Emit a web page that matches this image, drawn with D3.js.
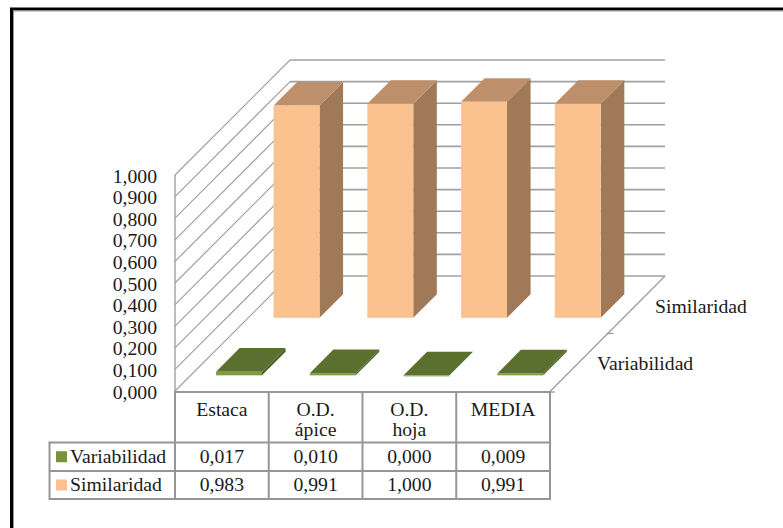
<!DOCTYPE html>
<html>
<head>
<meta charset="utf-8">
<script src="https://cdn.jsdelivr.net/npm/d3@7"></script>
<style>
html, body { margin: 0; padding: 0; background: #fff; }
svg { display: block; }
text { font-family: "Liberation Serif", serif; font-size: 19.7px; fill: #1a1a1a; }
</style>
</head>
<body>
<div id="chart"></div>
<script>
var categories = ["Estaca", "O.D. ápice", "O.D. hoja", "MEDIA"];
var seriesNames = ["Variabilidad", "Similaridad"];
var variabilidad = [0.017, 0.010, 0.000, 0.009];
var similaridad = [0.983, 0.991, 1.000, 0.991];
var yTicks = [0, 0.1, 0.2, 0.3, 0.4, 0.5, 0.6, 0.7, 0.8, 0.9, 1];

var W = 783, H = 528;
var svg = d3.select("#chart").append("svg").attr("width", W).attr("height", H);

// front edge of the floor, and how far the box recedes up and to the right
var x0 = 175, x1 = 550, yFloor = 391, yTop = 175, boxDepth = 115;

var xBand = d3.scaleBand().domain(categories).range([x0, x1]);
var xBar = d3.scaleBand().domain(categories).range([x0 + 1.5, x1 + 1.5]).paddingInner(0.51).paddingOuter(0.255);
var y = d3.scaleLinear().domain([0, 1]).range([yFloor, yTop]);
var depth = d3.scaleBand().domain(seriesNames).range([-1.3, boxDepth - 1.3]).paddingInner(0.59).paddingOuter(0.295);

var colors = {
    "Variabilidad": {front: "#7f9c42", top: "#5b6f2f", side: "#4f6128", key: "#77933c"},
    "Similaridad": {front: "#fbc18e", top: "#bd8f6b", side: "#a07a58", key: "#fac090"}
};
var gridColor = "#a0a0a0", tableColor = "#969696";

function pts(list) {
    return list.map(function(p) { return p[0] + "," + p[1]; }).join(" ");
}

function line(x1, y1, x2, y2, color, w) {
    svg.append("line")
        .attr("x1", x1).attr("y1", y1).attr("x2", x2).attr("y2", y2)
        .attr("stroke", color).attr("stroke-width", w);
}

function draw_frame() {
    line(10, 9, W, 9, "#000", 3);
    line(11.5, 8, 11.5, H, "#000", 3);
    line(13, 11, W, 11, "#999", 1);
    line(13.5, 11, 13.5, H, "#999", 1);
}

function draw_walls() {
    yTicks.forEach(function(t) {
        var yy = y(t);
        line(x0, yy, x0 + boxDepth, yy - boxDepth, gridColor, 1.2);
        line(x0 + boxDepth, yy - boxDepth, x1 + boxDepth, yy - boxDepth, gridColor, 1.6);
    });
    line(x0, y(0), x0, y(1), gridColor, 1.4);
    line(x1, yFloor + 0.5, x1 + boxDepth, yFloor - boxDepth, gridColor, 1.4);
    // depth tick between the two series, and the one at the front corner
    line(x1 + boxDepth / 2 - 1, yFloor - boxDepth / 2, x1 + boxDepth / 2 + 6, yFloor - boxDepth / 2, gridColor, 1.4);
    line(x1, yFloor + 1, x1 + 5, yFloor + 1, gridColor, 1.4);
}

function draw_series(name, values) {
    var d = depth(name), dw = depth.bandwidth(), w = xBar.bandwidth();
    var c = colors[name];
    var g = svg.append("g").attr("class", "series");
    categories.forEach(function(cat, i) {
        var left = xBar(cat) + d, right = left + w;
        var base = yFloor - d, top = base - (yFloor - y(values[i]));
        g.append("polygon").attr("fill", c.side)
            .attr("points", pts([[right, top], [right + dw, top - dw], [right + dw, base - dw], [right, base]]));
        g.append("polygon").attr("fill", c.top)
            .attr("points", pts([[left, top], [left + dw, top - dw], [right + dw, top - dw], [right, top]]));
        g.append("rect").attr("fill", c.front)
            .attr("x", left).attr("y", top).attr("width", w).attr("height", Math.max(base - top, 1));
    });
}

function draw_y_labels() {
    var fmt = function(t) { return d3.format(".3f")(t).replace(".", ","); };
    svg.selectAll("text.tick").data(yTicks).enter().append("text")
        .attr("class", "tick")
        .attr("x", 157).attr("y", function(t) { return y(t) + 1; })
        .attr("dy", "0.33em")
        .attr("text-anchor", "end")
        .text(fmt);
}

function draw_depth_labels() {
    svg.append("text").attr("x", 655).attr("y", 313).text("Similaridad");
    svg.append("text").attr("x", 597).attr("y", 370).text("Variabilidad");
}

function draw_table() {
    var yHead = 392, yRow1 = 442.5, yRow2 = 471, yEnd = 499, xKey = 49.5;
    var fmt = function(v) { return d3.format(".3f")(v).replace(".", ","); };

    line(x0, yHead, x1, yHead, tableColor, 2);
    line(xKey, yRow1, x1, yRow1, tableColor, 2);
    line(xKey, yRow2, x1, yRow2, tableColor, 2);
    line(xKey, yEnd, x1, yEnd, tableColor, 2);
    line(xKey, yRow1 - 1, xKey, yEnd + 1, tableColor, 2);
    line(x0, yHead - 1, x0, yEnd + 1, tableColor, 2);
    categories.forEach(function(cat) {
        line(xBand(cat) + xBand.bandwidth(), yHead - 1, xBand(cat) + xBand.bandwidth(), yEnd + 1, tableColor, 2);
    });

    // header cells wrap onto two lines at the space
    categories.forEach(function(cat) {
        var cx = xBand(cat) + xBand.bandwidth() / 2;
        var parts = cat.split(" ");
        if (cat.indexOf("O.D.") != 0) parts = [cat];
        parts.forEach(function(part, k) {
            svg.append("text").attr("x", cx).attr("y", 416 + k * 20)
                .attr("text-anchor", "middle").text(part);
        });
    });

    [[variabilidad, yRow1, yRow2], [similaridad, yRow2, yEnd]].forEach(function(row, r) {
        var name = seriesNames[r], mid = (row[1] + row[2]) / 2;
        svg.append("rect").attr("x", 56).attr("y", mid - 5.5)
            .attr("width", 11).attr("height", 11).attr("fill", colors[name].key);
        svg.append("text").attr("x", 70).attr("y", mid + 6).text(name);
        row[0].forEach(function(v, i) {
            svg.append("text")
                .attr("x", xBand(categories[i]) + xBand.bandwidth() / 2)
                .attr("y", mid + 6)
                .attr("text-anchor", "middle")
                .text(fmt(v));
        });
    });
}

function main() {
    draw_frame();
    draw_walls();
    // back row first so the nearer row paints over it
    draw_series("Similaridad", similaridad);
    draw_series("Variabilidad", variabilidad);
    draw_y_labels();
    draw_depth_labels();
    draw_table();
}

main();
</script>
</body>
</html>
